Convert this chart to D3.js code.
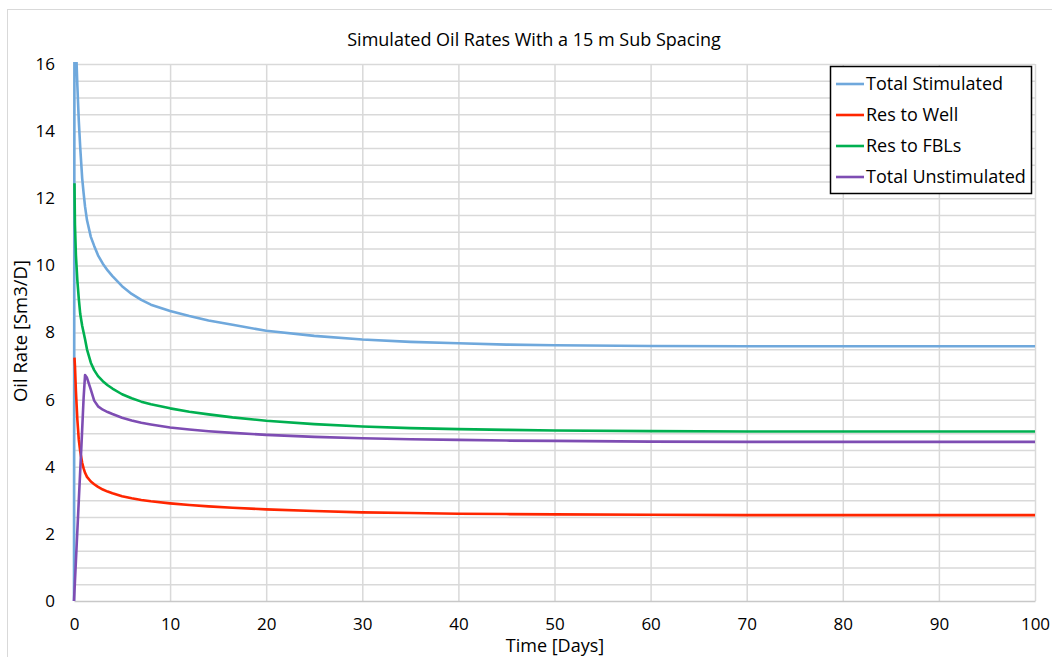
<!DOCTYPE html>
<html>
<head>
<meta charset="utf-8">
<script src="https://cdn.jsdelivr.net/npm/d3@7/dist/d3.min.js"></script>
<style>
  html, body { margin: 0; padding: 0; background: #fff; }
  svg { display: block; font-family: "Open Sans", Lato, sans-serif; }
</style>
</head>
<body>
<svg id="chart" width="1052" height="657"></svg>
<script>
// Simulation output: oil rates (Sm3/D) against time (days)
const days = [0, 0.05, 0.1, 0.2, 0.35, 0.5, 0.65, 0.85, 1.0, 1.15, 1.35, 1.75, 2.1, 2.5, 3, 3.5, 4, 5, 6, 7, 8, 10, 12, 14, 16.5, 20, 25, 30, 35, 40, 45, 50, 60, 70, 80, 90, 100];
const totalStimulated = [0, 19.5, 18.3, 16.6, 15.35, 14.3, 13.5, 12.6, 12.15, 11.75, 11.35, 10.85, 10.58, 10.3, 10.05, 9.85, 9.68, 9.38, 9.15, 8.97, 8.83, 8.64, 8.49, 8.36, 8.23, 8.05, 7.9, 7.79, 7.72, 7.68, 7.64, 7.62, 7.6, 7.59, 7.59, 7.59, 7.59];
const resToWell = [null, 7.25, 7.0, 6.25, 5.4, 4.8, 4.45, 4.12, 3.95, 3.82, 3.7, 3.56, 3.48, 3.4, 3.32, 3.26, 3.21, 3.12, 3.06, 3.01, 2.97, 2.91, 2.86, 2.82, 2.78, 2.73, 2.68, 2.64, 2.62, 2.6, 2.59, 2.58, 2.57, 2.56, 2.56, 2.56, 2.56];
const resToFBLs = [null, 12.45, 11.2, 10.3, 9.55, 9.0, 8.55, 8.2, 8.0, 7.8, 7.5, 7.1, 6.88, 6.7, 6.55, 6.43, 6.33, 6.16, 6.04, 5.94, 5.86, 5.74, 5.64, 5.56, 5.47, 5.37, 5.27, 5.2, 5.15, 5.12, 5.1, 5.08, 5.06, 5.05, 5.05, 5.05, 5.05];
const totalUnstimulated = [0, 0.3, 0.6, 1.2, 2.1, 3.0, 3.9, 5.1, 6.05, 6.73, 6.65, 6.3, 5.97, 5.8, 5.7, 5.63, 5.57, 5.46, 5.38, 5.31, 5.26, 5.17, 5.11, 5.06, 5.01, 4.95, 4.89, 4.85, 4.82, 4.8, 4.78, 4.77, 4.75, 4.74, 4.74, 4.74, 4.74];

const seriesNames = ["Total Stimulated", "Res to Well", "Res to FBLs", "Total Unstimulated"];
const seriesValues = [totalStimulated, resToWell, resToFBLs, totalUnstimulated];
const seriesColors = ["#6fa8dc", "#ff2600", "#00b050", "#7e4db3"];

const xTicks = [0, 10, 20, 30, 40, 50, 60, 70, 80, 90, 100];
const yTicks = [0, 2, 4, 6, 8, 10, 12, 14, 16];

const titleText = "Simulated Oil Rates With a 15 m Sub Spacing";
const xTitle = "Time [Days]";
const yTitle = "Oil Rate [Sm3/D]";

const svg = d3.select("#chart");
const W = 1052, H = 657;
const FONT = "'Open Sans', Lato, sans-serif";

// chart frame
svg.append("rect")
  .attr("x", 7.5).attr("y", 9.5)
  .attr("width", W + 10).attr("height", H + 10)
  .attr("fill", "#fff").attr("stroke", "#d9d9d9").attr("stroke-width", 1);

const x = d3.scaleLinear().domain([0, 100]).range([74, 1035]);
const y = d3.scaleLinear().domain([0, 16]).range([601, 64]);

// horizontal gridlines every 0.5
const yGrid = d3.range(0.5, 16.001, 0.5);
svg.append("g")
  .attr("transform", `translate(${x(0)},0)`)
  .call(d3.axisLeft(y).tickValues(yGrid).tickSize(-(x(100) - x(0))).tickFormat(""))
  .call(g => g.select(".domain").remove())
  .call(g => g.selectAll("line").attr("stroke", "#d9d9d9").attr("stroke-width", 1.5));

// vertical gridlines at every 10 days
svg.append("g")
  .attr("transform", `translate(0,${y(0)})`)
  .call(d3.axisBottom(x).tickValues(xTicks).tickSize(-(y(0) - y(16))).tickFormat(""))
  .call(g => g.select(".domain").remove())
  .call(g => g.selectAll("line").attr("stroke", "#d9d9d9").attr("stroke-width", 1.5));

// x axis base line and labels
const xAxis = svg.append("g")
  .attr("transform", `translate(0,${y(0)})`)
  .call(d3.axisBottom(x).tickValues(xTicks).tickSize(0).tickPadding(17).tickFormat(d3.format("d")));
xAxis.select(".domain").attr("stroke", "#c8c8c8").attr("stroke-width", 1.5);
xAxis.selectAll("text").attr("font-size", 17).attr("fill", "#000").attr("font-family", FONT);

// y axis labels
const yAxis = svg.append("g")
  .attr("transform", `translate(${x(0)},0)`)
  .call(d3.axisLeft(y).tickValues(yTicks).tickSize(0).tickPadding(19).tickFormat(d3.format("d")));
yAxis.select(".domain").remove();
yAxis.selectAll("text").attr("font-size", 17).attr("fill", "#000").attr("font-family", FONT);

// plot clip
svg.append("defs").append("clipPath").attr("id", "plotClip")
  .append("rect").attr("x", x(0) - 3).attr("y", y(16) - 2)
  .attr("width", x(100) - x(0) + 6).attr("height", y(0) - y(16) + 4);

const line = d3.line()
  .defined(d => d[1] !== null)
  .x(d => x(d[0]))
  .y(d => y(d[1]));

const lines = svg.append("g").attr("clip-path", "url(#plotClip)");
seriesValues.forEach((vals, i) => {
  lines.append("path")
    .datum(days.map((t, k) => [t, vals[k]]))
    .attr("fill", "none")
    .attr("stroke", seriesColors[i])
    .attr("stroke-width", 2.6)
    .attr("stroke-linejoin", "round")
    .attr("d", line);
});

// title
svg.append("text")
  .attr("x", 534).attr("y", 46)
  .attr("text-anchor", "middle")
  .attr("font-size", 18).attr("fill", "#000")
  .text(titleText);

// axis titles
svg.append("text")
  .attr("x", 555).attr("y", 652)
  .attr("text-anchor", "middle")
  .attr("font-size", 18).attr("fill", "#000")
  .text(xTitle);

svg.append("text")
  .attr("transform", `translate(27,${331}) rotate(-90)`)
  .attr("text-anchor", "middle")
  .attr("font-size", 18.5).attr("fill", "#000")
  .text(yTitle);

// legend
const legend = svg.append("g");
legend.append("rect")
  .attr("x", 830.5).attr("y", 66.5)
  .attr("width", 201).attr("height", 127)
  .attr("fill", "#fff").attr("stroke", "#000").attr("stroke-width", 1.5);
seriesNames.forEach((name, i) => {
  const cy = 84 + i * 31;
  legend.append("line")
    .attr("x1", 836).attr("x2", 864).attr("y1", cy).attr("y2", cy)
    .attr("stroke", seriesColors[i]).attr("stroke-width", 2.6);
  legend.append("text")
    .attr("x", 866).attr("y", cy).attr("dy", "0.35em")
    .attr("font-size", 18).attr("fill", "#000")
    .text(name);
});
</script>
</body>
</html>
